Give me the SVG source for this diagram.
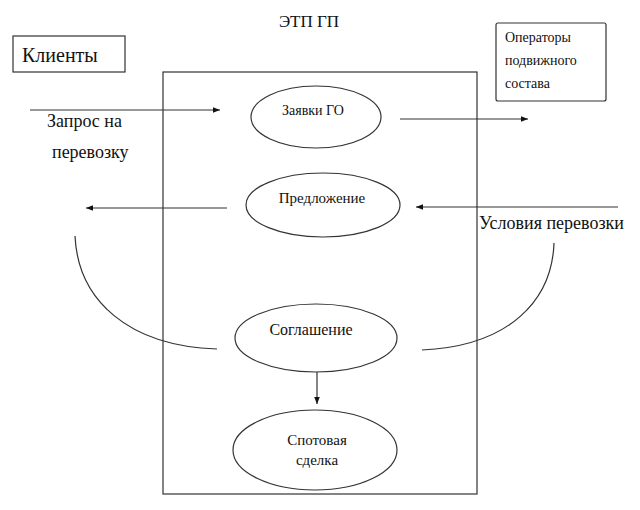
<svg xmlns="http://www.w3.org/2000/svg" width="640" height="510" viewBox="0 0 640 510">
<style>
.t{font-family:'Liberation Serif','Times New Roman','DejaVu Serif',serif;fill:#111}
.b{fill:#fff;stroke:#333;stroke-width:1.2}
.c{fill:none;stroke:#333;stroke-width:1.2}
.a{fill:none;stroke:#333;stroke-width:1.2;marker-end:url(#ah)}
.m{text-anchor:middle}
</style>
<defs>
<marker id="ah" viewBox="0 0 10 10" refX="10" refY="5" markerWidth="7" markerHeight="7" markerUnits="userSpaceOnUse" orient="auto">
<path d="M0,1 L10,5 L0,9 z" fill="#111"/>
</marker>
</defs>
<rect width="640" height="510" fill="#fff"/>
<g class="t" font-family="'Liberation Serif','Times New Roman','DejaVu Serif',serif">
<text x="309" y="27" class="m" font-size="17">ЭТП ГП</text>
<g id="clients">
<rect class="b" x="13" y="36" width="112" height="36"/>
<text x="22" y="62" font-size="20">Клиенты</text>
</g>
<g id="operators">
<rect class="b" x="496" y="23" width="110" height="78" rx="2"/>
<text x="505" y="42" font-size="14">Операторы</text>
<text x="505" y="65" font-size="14">подвижного</text>
<text x="505" y="88" font-size="14">состава</text>
</g>
<g id="etp">
<rect class="c" x="163" y="72" width="314" height="422"/>
</g>
<g id="connectors">
<line class="a" x1="30" y1="110" x2="220" y2="110"/>
<line class="a" x1="400" y1="119" x2="528" y2="119"/>
<line class="a" x1="227" y1="208" x2="86" y2="208"/>
<line class="a" x1="618" y1="207" x2="416" y2="207"/>
<line class="a" x1="317" y1="372" x2="317" y2="404"/>
<path class="c" d="M75,236 C78,300 128,346 217,349"/>
<path class="c" d="M554,243 C552,300 510,346 422,350"/>
</g>
<text x="47" y="127" font-size="18">Запрос на</text>
<text x="52" y="158" font-size="18">перевозку</text>
<text x="479" y="229" font-size="18">Условия перевозки</text>
<g id="zayavki">
<ellipse class="b" cx="316" cy="117" rx="65" ry="31"/>
<text x="313" y="115" class="m" font-size="14">Заявки ГО</text>
</g>
<g id="predlozhenie">
<ellipse class="b" cx="323" cy="205" rx="77" ry="32"/>
<text x="322" y="203" class="m" font-size="15">Предложение</text>
</g>
<g id="soglashenie">
<ellipse class="b" cx="316" cy="338" rx="81" ry="34"/>
<text x="311" y="335" class="m" font-size="16">Соглашение</text>
</g>
<g id="spot">
<ellipse class="b" cx="315" cy="450" rx="82" ry="40"/>
<text x="317" y="445" class="m" font-size="15">Спотовая</text>
<text x="317" y="465" class="m" font-size="15">сделка</text>
</g>
</g>
</svg>
